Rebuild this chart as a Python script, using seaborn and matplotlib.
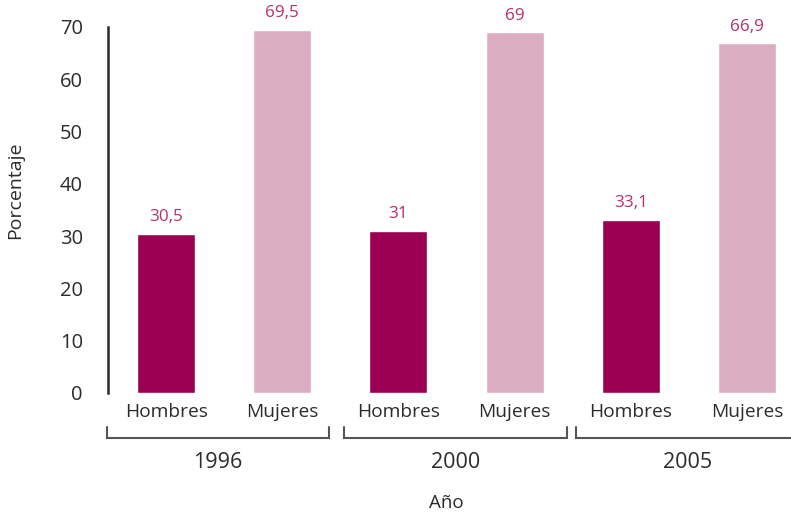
import matplotlib
matplotlib.use("Agg")
import matplotlib.pyplot as plt
import matplotlib.transforms as mtransforms
import seaborn as sns
import pandas as pd

# Data
years = ["1996", "2000", "2005"]
sexes = ["Hombres", "Mujeres"]
hombres = [30.5, 31.0, 33.1]
mujeres = [69.5, 69.0, 66.9]
value_labels = [["30,5", "69,5"], ["31", "69"], ["33,1", "66,9"]]

colors = {"Hombres": "#9b0053", "Mujeres": "#dbadc1"}
label_color = "#b5306e"
text_color = "#2b2b2b"

rows = []
for i, y in enumerate(years):
    for s, v, lab in zip(sexes, (hombres[i], mujeres[i]), value_labels[i]):
        rows.append({"grupo": f"{y}-{s}", "año": y, "sexo": s, "valor": v, "etiqueta": lab})
df = pd.DataFrame(rows)
order = list(df["grupo"])

sns.set_theme(style="white")
plt.rcParams["font.family"] = ["Open Sans", "DejaVu Sans"]

fig = plt.figure(figsize=(7.91, 5.17), dpi=100)
ax = fig.add_axes([108 / 791, 1 - 393 / 517, 668 / 791, 366 / 517])

sns.barplot(data=df, x="grupo", y="valor", hue="sexo", order=order,
            palette=colors, dodge=False, width=0.5, legend=False,
            saturation=1, ax=ax)

ax.set_xlim(-0.5, 5.25)
ax.set_ylim(0, 70)
ax.set_yticks(range(0, 71, 10))
ax.tick_params(axis="y", length=0, pad=18, labelsize=14.5, labelcolor=text_color)
ax.set_xticks(range(len(order)))
ax.set_xticklabels(df["sexo"], fontsize=13.8, color=text_color)
ax.tick_params(axis="x", length=0, pad=7)

for side in ("top", "right", "bottom"):
    ax.spines[side].set_visible(False)
ax.spines["left"].set_color(text_color)
ax.spines["left"].set_linewidth(1.8)

ax.set_xlabel("")
ax.set_ylabel("")

# Value labels above the bars
for i, r in df.iterrows():
    ax.annotate(r["etiqueta"], (i, r["valor"]), xytext=(0, 12), textcoords="offset points",
                ha="center", va="center", fontsize=12.3, color=label_color)

# Year brackets below the category labels
trans = mtransforms.blended_transform_factory(ax.transData, ax.transAxes)
bracket_spans = [(-0.51, 1.40), (1.53, 3.45), (3.53, 5.45)]
for (x0, x1), y in zip(bracket_spans, years):
    ax.plot([x0, x0, x1, x1], [-0.093, -0.123, -0.123, -0.093], transform=trans,
            color="#555555", lw=1.5, clip_on=False, solid_joinstyle="miter")
    ax.text((x0 + x1) / 2, -0.191, y, transform=trans, ha="center", va="center",
            fontsize=15.5, color=text_color)

ax.text(2.41, -0.30, "Año", transform=trans, ha="center", va="center",
        fontsize=13.5, color=text_color)
fig.text(15 / 791, 1 - 190 / 517, "Porcentaje", rotation=90, ha="center", va="center",
         fontsize=14, color=text_color)

fig.savefig("out.png", dpi=100)
